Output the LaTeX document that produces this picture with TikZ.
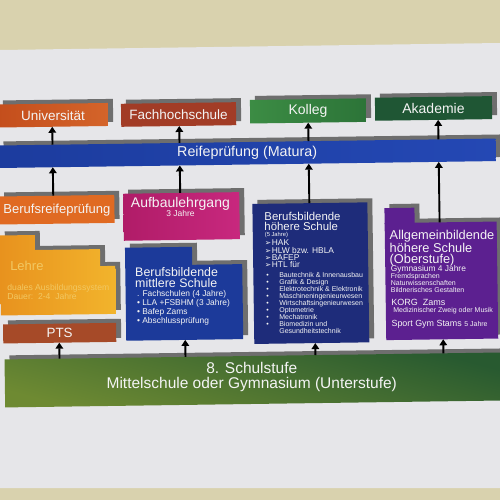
\documentclass[tikz,border=0pt]{standalone}
\usepackage{fontspec}
\setmainfont{Liberation Sans}
\newfontfamily\symf{DejaVu Sans}
\usetikzlibrary{arrows.meta,calc}
\pgfdeclarelayer{paperlayer}
\pgfdeclarelayer{shadowlayer}
\pgfsetlayers{paperlayer,shadowlayer,main}
\definecolor{beigeT}{HTML}{D9D2AE}
\definecolor{paperc}{HTML}{E6E6E9}
\definecolor{shadowc}{HTML}{6E6E6E}
\definecolor{uniL}{HTML}{C44E1C}
\definecolor{uniR}{HTML}{D4642A}
\definecolor{fhc}{HTML}{A23C26}
\definecolor{kolL}{HTML}{3C8C44}
\definecolor{kolR}{HTML}{2C7438}
\definecolor{akac}{HTML}{1F5634}
\definecolor{reifL}{HTML}{1C3C9E}
\definecolor{reifR}{HTML}{2448B4}
\definecolor{brpc}{HTML}{E06A22}
\definecolor{aufL}{HTML}{B01C68}
\definecolor{aufR}{HTML}{C8287E}
\definecolor{lehL}{HTML}{E8921E}
\definecolor{lehR}{HTML}{F2B42C}
\definecolor{lehT}{HTML}{F2C862}
\definecolor{bmsc}{HTML}{1C3A9A}
\definecolor{bhsc}{HTML}{1E2C7A}
\definecolor{ahsc}{HTML}{5C2090}
\definecolor{ptsc}{HTML}{A64A28}
\definecolor{stuT}{HTML}{285A30}
\definecolor{stuB}{HTML}{6E8A32}
\definecolor{txt}{HTML}{F4F4F4}
\newcommand\fsz[2]{\fontsize{#1}{#2}\selectfont}
\newcommand\pf{\makebox[7pt][l]{\symf\fontsize{7.6}{7.35}\selectfont ➢}}
\newcommand\bl{\makebox[13pt][l]{•}}
\newcommand\rbox[6]{%
  \node[box, minimum width=#4pt, minimum height=#5pt, #6] (#1) at (#2,#3) {};
  \begin{pgfonlayer}{shadowlayer}
    \fill[shadowc] ([shift={(5,-4)}]#1.south west) rectangle ([shift={(5,-4)}]#1.north east);
  \end{pgfonlayer}}
\begin{document}
\begin{tikzpicture}[x=1pt,y=-1pt,
  box/.style={anchor=north west, inner sep=0pt, outer sep=0pt, transform shape},
  lbl/.style={inner sep=0pt, outer sep=0pt, text=txt},
  arr/.style={line width=1.9pt, black, -{Triangle[width=7.5pt,length=6pt]}}]
\useasboundingbox (0,0) rectangle (500,500);
\begin{pgfonlayer}{paperlayer}
  \fill[beigeT] (0,0) rectangle (500,500);
  \fill[paperc] (0,50) -- (500,43) -- (500,488) -- (0,488) -- cycle;
\end{pgfonlayer}
\begin{scope}[rotate around={0.8:(250,250)}]
  % columns
  \coordinate (k1) at (54,170);
  \coordinate (k2) at (181,170);
  \coordinate (k3) at (310,170);
  \coordinate (k4) at (440,170);
  \coordinate (b1) at (58,350);
  \coordinate (b2) at (184,350);
  \coordinate (b3) at (314,350);
  \coordinate (b4) at (442,350);
  % top row
  \rbox{uni}{0}{101}{110}{23}{left color=uniL,right color=uniR}
  \node[lbl, font=\fsz{13.5}{15}] (unit) at (uni.center) {Universität};
  \rbox{fh}{123}{102}{115}{23}{fill=fhc}
  \node[lbl, font=\fsz{13.5}{15}] (fht) at (fh.center) {Fachhochschule};
  \rbox{kolleg}{252}{100}{116}{23.5}{left color=kolL,right color=kolR}
  \node[lbl, font=\fsz{14}{15}] (kollegt) at (kolleg.center) {Kolleg};
  \rbox{akad}{377}{99.5}{117}{23}{fill=akac}
  \node[lbl, font=\fsz{14}{15}] (akadt) at (akad.center) {Akademie};
  % Reifepruefung
  \rbox{reif}{0}{142}{497}{22.5}{left color=reifL,right color=reifR}
  \node[lbl, font=\fsz{14.3}{16}] (reift) at (reif.center) {Reifeprüfung (Matura)};
  % second row
  \rbox{brp}{0}{193}{115}{28}{fill=brpc}
  \node[lbl, font=\fsz{13}{15}] (brpt) at (brp.center) {Berufsreifeprüfung};
  \rbox{aufbau}{124}{192}{116}{47}{left color=aufL,right color=aufR}
  \node[lbl, anchor=base, font=\fsz{14}{16}] (auft) at (181,207) {Aufbaulehrgang};
  \node[lbl, anchor=base, font=\fsz{8.5}{10}] (aufj) at (181,216) {3 Jahre};
  % Lehre
  \begin{pgfonlayer}{shadowlayer}
    \fill[shadowc, shift={(5,-4)}] (0,232) -- (35,232) -- (35,247) -- (100,247) -- (100,264) -- (115,264) -- (115,312) -- (0,312) -- cycle;
  \end{pgfonlayer}
  \shade[left color=lehL, right color=lehR] (0,232) -- (35,232) -- (35,247) -- (100,247) -- (100,264) -- (115,264) -- (115,312) -- (0,312) -- cycle;
  \node[lbl, anchor=base west, text=lehT, font=\fsz{13}{15}] (lehre) at (10,266.7) {Lehre};
  \node[lbl, anchor=north west, align=left, text=lehT, font=\fsz{8.6}{8}] (lehred) at (7,281.1) {duales Ausbildungssystem\\Dauer:\ \ 2-4\ \ Jahre};
  % BMS
  \begin{pgfonlayer}{shadowlayer}
    \fill[shadowc] (130,242) rectangle (197,261);
  \end{pgfonlayer}
  \fill[bmsc] (125,246) rectangle (192,265);
  \rbox{bms}{125}{264}{117}{75}{fill=bmsc}
  \node[lbl, anchor=north west, align=left, font=\fsz{12.4}{11}] (bmst) at (135,266.4) {Berufsbildende\\mittlere Schule};
  \node[lbl, anchor=north west, align=left, font=\fsz{8.4}{9}] (bmsl) at (136.5,288.9) {. Fachschulen (4 Jahre)\\• LLA +FSBHM (3 Jahre)\\• Bafep Zams\\• Abschlussprüfung};
  % BHS
  \rbox{bhs}{253}{204}{115}{140}{fill=bhsc}
  \node[lbl, anchor=north west, align=left, font=\fsz{11.4}{10}] (bhst) at (265,212.8) {Berufsbildende\\höhere Schule};
  \node[lbl, anchor=base west, font=\fsz{5.8}{7}] (bhsj) at (265,237.1) {(5 Jahre)};
  \node[lbl, anchor=north west, align=left, font=\fsz{8.4}{7.35}] (bhsm) at (265,240.1) {\pf HAK\\\pf HLW bzw. HBLA\\\pf BAFEP\\\pf HTL für};
  \node[lbl, anchor=north west, align=left, font=\fsz{7}{7.1}] (bhss) at (266,272.3) {\bl Bautechnik \& Innenausbau\\\bl Grafik \& Design\\\bl Elektrotechnik \& Elektronik\\\bl Maschineningenieurwesen\\\bl Wirtschaftsingenieurwesen\\\bl Optometrie\\\bl Mechatronik\\\bl Biomedizin und\\\hspace*{13pt}Gesundheitstechnik};
  % AHS
  \begin{pgfonlayer}{shadowlayer}
    \fill[shadowc] (390,206) rectangle (420,222);
  \end{pgfonlayer}
  \fill[ahsc] (385,210) rectangle (415,226);
  \rbox{ahs}{385}{225}{112}{117}{fill=ahsc}
  \node[lbl, anchor=north west, align=left, font=\fsz{12.8}{11.3}] (ahst) at (390,231.9) {Allgemeinbildende\\höhere Schule\\(Oberstufe)};
  \node[lbl, anchor=base west, font=\fsz{8.4}{10}] (ahsg) at (390.5,273.6) {Gymnasium 4 Jahre};
  \node[lbl, anchor=north west, align=left, font=\fsz{7}{6.7}] (ahsf) at (390.5,275.6) {Fremdsprachen\\Naturwissenschaften\\Bildnerisches Gestalten};
  \node[lbl, anchor=base west, font=\fsz{9}{10}] (ahsk) at (390.5,307.6) {KORG\ \ Zams};
  \node[lbl, anchor=base west, font=\fsz{7}{8}] (ahsm) at (392.5,314.4) {Medizinischer Zweig oder Musik};
  \node[lbl, anchor=base west, font=\fsz{8.9}{10}] (ahss) at (390.5,328.8) {Sport Gym Stams {\fsz{7}{8}5 Jahre}};
  % PTS
  \rbox{pts}{2}{321}{113}{19}{fill=ptsc}
  \node[lbl, font=\fsz{13.4}{15}] (ptst) at (pts.center) {PTS};
  % bottom bar
  \rbox{stufe}{3}{356}{497}{48}{top color=stuT,bottom color=stuB,shading angle=-15}
  \node[lbl, align=center, font=\fsz{15.5}{15}] (stufet) at (250,377) {8. Schulstufe\\Mittelschule oder Gymnasium (Unterstufe)};
  % arrows Reifepruefung -> top row
  \draw[arr] ($(reif.north west)!(k1)!(reif.north east)$) -- ($(uni.south west)!(k1)!(uni.south east)$);
  \draw[arr] ($(reif.north west)!(k2)!(reif.north east)$) -- ($(fh.south west)!(k2)!(fh.south east)$);
  \draw[arr] ($(reif.north west)!(k3)!(reif.north east)$) -- ($(kolleg.south west)!(k3)!(kolleg.south east)$);
  \draw[arr] ($(reif.north west)!(k4)!(reif.north east)$) -- ($(akad.south west)!(k4)!(akad.south east)$);
  % second row -> Reifepruefung
  \draw[arr] ($(brp.north west)!(k1)!(brp.north east)$) -- ($(reif.south west)!(k1)!(reif.south east)$);
  \draw[arr] ($(aufbau.north west)!(k2)!(aufbau.north east)$) -- ($(reif.south west)!(k2)!(reif.south east)$);
  \draw[arr] ($(bhs.north west)!(k3)!(bhs.north east)$) -- ($(reif.south west)!(k3)!(reif.south east)$);
  \draw[arr] ($(ahs.north west)!(k4)!(ahs.north east)$) -- ($(reif.south west)!(k4)!(reif.south east)$);
  % bottom bar -> schools
  \draw[arr] ($(stufe.north west)!(b1)!(stufe.north east)$) -- ($(pts.south west)!(b1)!(pts.south east)$);
  \draw[arr] ($(stufe.north west)!(b2)!(stufe.north east)$) -- ($(bms.south west)!(b2)!(bms.south east)$);
  \draw[arr] ($(stufe.north west)!(b3)!(stufe.north east)$) -- ($(bhs.south west)!(b3)!(bhs.south east)$);
  \draw[arr] ($(stufe.north west)!(b4)!(stufe.north east)$) -- ($(ahs.south west)!(b4)!(ahs.south east)$);
\end{scope}
\end{tikzpicture}
\end{document}
